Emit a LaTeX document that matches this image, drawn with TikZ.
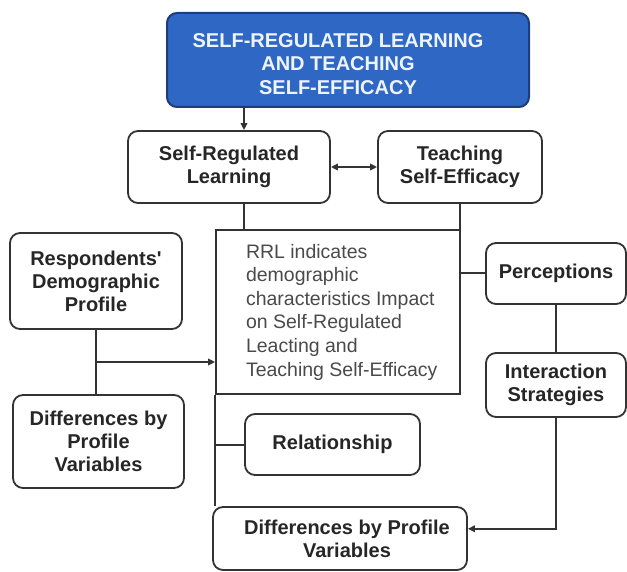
\documentclass[tikz,border=0pt]{standalone}
\usepackage{fontspec}
\setmainfont{Liberation Sans}
\usetikzlibrary{arrows.meta,calc}
\definecolor{linegray}{HTML}{333333}
\definecolor{textdark}{HTML}{262626}
\definecolor{textsoft}{HTML}{4A4A4A}
\definecolor{titlefill}{HTML}{2F68C4}
\definecolor{titleedge}{HTML}{1E3C78}
\definecolor{titletext}{HTML}{EEF4FF}
\begin{document}
\begin{tikzpicture}[x=1pt,y=-1pt,
  box/.style={draw=linegray, line width=1.8pt, rounded corners=10pt, fill=white,
    text=textdark, align=center, inner sep=0pt,
    font=\bfseries\fontsize{20}{23}\selectfont},
  titlebox/.style={draw=titleedge, line width=2pt, rounded corners=10pt, fill=titlefill,
    text=titletext, inner sep=0pt, font=\bfseries\fontsize{20}{23.5}\selectfont},
  notebox/.style={draw=linegray, line width=1.8pt, fill=white, text=textsoft,
    inner sep=0pt, font=\fontsize{19.5}{23.6}\selectfont},
  conn/.style={draw=linegray, line width=2pt},
  tip/.style={-{Triangle[length=7pt,width=6.5pt]}},
  twotip/.style={{Triangle[length=7pt,width=6.5pt]}-{Triangle[length=7pt,width=6.5pt]}}
]
\useasboundingbox (0,0) rectangle (627,572);

% heading
\node[titlebox, minimum width=362pt, minimum height=94pt] (top) at (348,60)
  {\parbox{330pt}{\centering\vspace*{8pt}SELF-REGULATED LEARNING\\AND TEACHING\\SELF-EFFICACY}\hspace*{20pt}};

% second row
\node[box, minimum width=202pt, minimum height=72pt] (srl) at (229,167) {Self-Regulated\\Learning};
\node[box, minimum width=164pt, minimum height=72pt] (tse) at (460,167) {Teaching\\Self-Efficacy};

% central review note
\node[notebox, minimum width=244pt, minimum height=164pt] (rrl) at (338,312)
  {\hspace*{16pt}\parbox{200pt}{\raggedright RRL indicates\\demographic\\characteristics Impact\\on Self-Regulated\\Leacting and\\Teaching Self-Efficacy}};

% left column
\node[box, minimum width=172pt, minimum height=96pt] (resp) at (96,281) {Respondents\textquotesingle\\Demographic\\Profile};
\node[box, minimum width=171pt, minimum height=93pt] (diffl) at (98.5,441.5) {Differences by\\Profile\\Variables};

% right column
\node[box, minimum width=140pt, minimum height=61pt] (perc) at (556,273.5) {Perceptions};
\node[box, minimum width=140pt, minimum height=64pt] (inter) at (556,385) {Interaction\\Strategies};

% lower middle
\node[box, minimum width=175pt, minimum height=61pt] (rel) at (332.5,444.5) {Relationship};
\node[box, minimum width=254pt, minimum height=63pt] (bot) at (340,538.5)
  {\hspace*{14pt}Differences by Profile\\\hspace*{14pt}Variables};

% connectors
\coordinate (srlx) at (244,0);
\draw[conn, tip] (top.south -| srlx) -- (srl.north -| srlx);
\draw[conn, twotip] (srl.east) -- (tse.west);
\draw[conn] (srl.south -| srlx) -- (rrl.north -| srlx);
\draw[conn] (tse.south) -- (tse.south |- rrl.north);
\draw[conn] (perc.west) -- (perc.west -| rrl.east);
\draw[conn] (perc.south) -- (inter.north);
\coordinate (botin) at ($(bot.north east)!0.35!(bot.south east)$);
\draw[conn, tip] (inter.south) |- (botin);
\draw[conn] (rrl.south west) -- (rrl.south west |- bot.north);
\draw[conn] (rel.west) -- (rel.west -| rrl.west);
\draw[conn] (resp.south) -- (resp.south |- diffl.north);
\coordinate (resj) at ($(resp.south)!0.5!(resp.south |- diffl.north)$);
\draw[conn, tip] (resj) -- (resj -| rrl.west);
\end{tikzpicture}
\end{document}
